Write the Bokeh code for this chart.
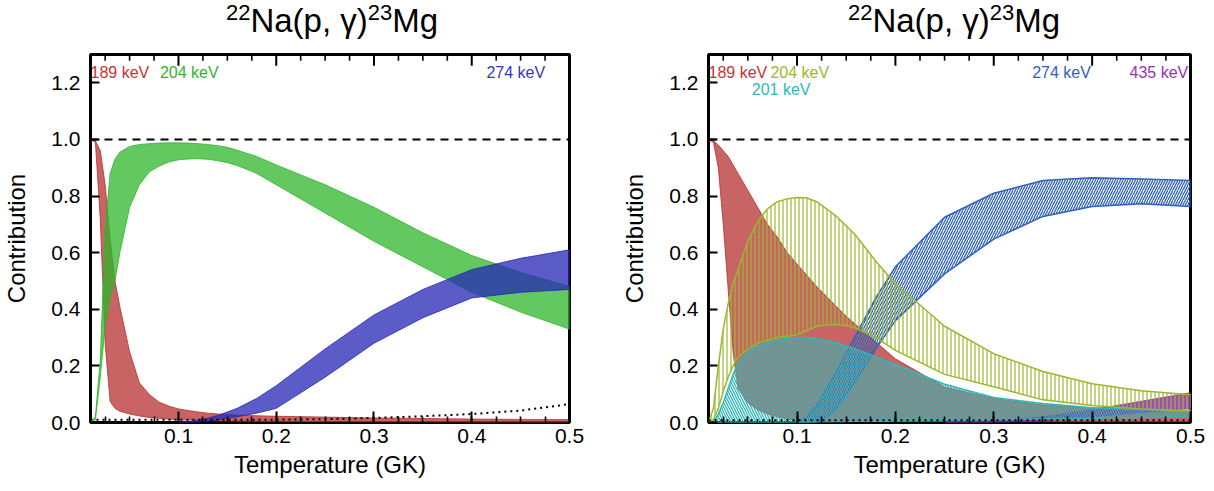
from bokeh.plotting import figure
from bokeh.layouts import row, column
from bokeh.models import FixedTicker, NumeralTickFormatter, Range1d, Span, Div
from bokeh.core.properties import value
from bokeh.embed import file_html
from bokeh.resources import INLINE

FONT = "Liberation Sans"

# ---------------- data ----------------
T = [0.01, 0.015, 0.02, 0.025, 0.03, 0.035, 0.04, 0.05, 0.06, 0.07, 0.08, 0.09,
     0.1, 0.11, 0.12, 0.13, 0.14, 0.15, 0.16, 0.18, 0.2, 0.25, 0.3, 0.35, 0.4, 0.45, 0.5]

# left panel
L_189_hi = [1.0, 0.995, 0.96, 0.84, 0.65, 0.50, 0.41, 0.25, 0.14, 0.10, 0.072, 0.058,
            0.048, 0.042, 0.037, 0.033, 0.030, 0.028, 0.026, 0.024, 0.022, 0.019, 0.016,
            0.014, 0.012, 0.011, 0.010]
L_189_lo = [1.0, 0.99, 0.72, 0.28, 0.075, 0.05, 0.04, 0.03, 0.023, 0.018, 0.015, 0.012,
            0.010, 0.009, 0.008, 0.007, 0.006, 0.006, 0.005, 0.004, 0.004, 0.003, 0.002,
            0.002, 0.001, 0.001, 0.001]
L_204_hi = [0.0, 0.02, 0.22, 0.68, 0.88, 0.93, 0.955, 0.975, 0.982, 0.985, 0.987, 0.988,
            0.988, 0.987, 0.985, 0.982, 0.978, 0.972, 0.962, 0.94, 0.91, 0.84, 0.76,
            0.67, 0.59, 0.53, 0.48]
L_204_lo = [0.0, 0.01, 0.16, 0.34, 0.44, 0.50, 0.60, 0.76, 0.84, 0.885, 0.905, 0.92,
            0.928, 0.931, 0.932, 0.93, 0.925, 0.918, 0.908, 0.88, 0.84, 0.74, 0.64,
            0.55, 0.46, 0.39, 0.33]
L_274_hi = [0, 0, 0, 0, 0, 0, 0, 0, 0, 0, 0, 0,
            0.0, 0.003, 0.008, 0.015, 0.025, 0.037, 0.05, 0.085, 0.13, 0.26, 0.38,
            0.47, 0.54, 0.58, 0.61]
L_274_lo = [0, 0, 0, 0, 0, 0, 0, 0, 0, 0, 0, 0,
            0.0, 0.0, 0.002, 0.005, 0.009, 0.014, 0.02, 0.033, 0.05, 0.16, 0.28,
            0.37, 0.44, 0.46, 0.47]
L_other = [0.01, 0.01, 0.01, 0.01, 0.01, 0.01, 0.01, 0.01, 0.01, 0.01, 0.01, 0.01,
           0.01, 0.01, 0.01, 0.01, 0.01, 0.01, 0.01, 0.01, 0.01, 0.012, 0.016,
           0.022, 0.03, 0.042, 0.065]

# right panel
R_189_hi = [1.0, 0.995, 0.98, 0.96, 0.94, 0.91, 0.88, 0.82, 0.76, 0.70, 0.655, 0.60,
            0.56, 0.52, 0.48, 0.445, 0.41, 0.375, 0.345, 0.285, 0.225, 0.125, 0.085,
            0.062, 0.052, 0.045, 0.04]
R_189_lo = [1.0, 0.99, 0.90, 0.70, 0.47, 0.25, 0.12, 0.07, 0.045, 0.03, 0.02, 0.012,
            0.008, 0.007, 0.006, 0.006, 0.005, 0.005, 0.005, 0.004, 0.004, 0.004, 0.003,
            0.003, 0.003, 0.003, 0.003]
R_204_hi = [0.0, 0.05, 0.2, 0.33, 0.42, 0.49, 0.54, 0.64, 0.71, 0.755, 0.78, 0.79,
            0.795, 0.793, 0.78, 0.755, 0.728, 0.695, 0.66, 0.57, 0.49, 0.34, 0.243,
            0.18, 0.137, 0.112, 0.098]
R_204_lo = [0.0, 0.01, 0.05, 0.11, 0.16, 0.20, 0.23, 0.26, 0.28, 0.29, 0.30, 0.305,
            0.31, 0.325, 0.34, 0.345, 0.345, 0.343, 0.333, 0.30, 0.255, 0.17, 0.126,
            0.08, 0.06, 0.048, 0.04]
R_201_hi = [0.0, 0.0, 0.03, 0.07, 0.12, 0.17, 0.21, 0.25, 0.27, 0.282, 0.292, 0.298,
            0.30, 0.30, 0.296, 0.29, 0.282, 0.27, 0.258, 0.232, 0.205, 0.135, 0.088,
            0.067, 0.052, 0.046, 0.042]
R_201_lo = [0.0, 0.0, 0.0, 0.0, 0.0, 0.0, 0.0, 0.0, 0.0, 0.0, 0.0, 0.0,
            0.0, 0.001, 0.002, 0.002, 0.003, 0.003, 0.004, 0.004, 0.005, 0.007, 0.01,
            0.012, 0.015, 0.018, 0.02]
R_274_hi = [0, 0, 0, 0, 0, 0, 0, 0, 0, 0, 0, 0,
            0.0, 0.02, 0.06, 0.12, 0.18, 0.245, 0.31, 0.44, 0.55, 0.725, 0.81,
            0.855, 0.865, 0.86, 0.855]
R_274_lo = [0, 0, 0, 0, 0, 0, 0, 0, 0, 0, 0, 0,
            0.0, 0.0, 0.003, 0.02, 0.05, 0.10, 0.15, 0.26, 0.36, 0.525, 0.648,
            0.728, 0.763, 0.773, 0.763]
R_435_hi = [0, 0, 0, 0, 0, 0, 0, 0, 0, 0, 0, 0,
            0, 0, 0, 0, 0, 0, 0, 0, 0, 0.0, 0.006, 0.02, 0.045, 0.075, 0.105]
R_435_lo = [0, 0, 0, 0, 0, 0, 0, 0, 0, 0, 0, 0,
            0, 0, 0, 0, 0, 0, 0, 0, 0, 0.0, 0.0, 0.006, 0.02, 0.035, 0.05]
R_other = [0.008] * len(T)

# resonance labels
L_labels = ["189 keV", "204 keV", "274 keV"]
L_label_colors = ["#c83232", "#2fb52c", "#3535bd"]
L_label_x = [0.01, 0.081, 0.415]
L_label_y = [1.237, 1.237, 1.237]
R_labels = ["189 keV", "204 keV", "201 keV", "274 keV", "435 keV"]
R_label_colors = ["#c83232", "#9ab82e", "#2fb8b8", "#2f62b8", "#9b30b0"]
R_label_x = [0.01, 0.073, 0.054, 0.339, 0.438]
R_label_y = [1.237, 1.237, 1.178, 1.237, 1.237]

TITLE_HTML = ('<span style="font-size:22px;vertical-align:12px;line-height:0">22</span>'
              'Na(p, \u03b3)'
              '<span style="font-size:22px;vertical-align:12px;line-height:0">23</span>Mg')

X_TICKS = [0.1, 0.2, 0.3, 0.4, 0.5]
X_MINOR = [round(0.025 * i, 3) for i in range(1, 21)]
Y_TICKS = [0.0, 0.2, 0.4, 0.6, 0.8, 1.0, 1.2]
X_MIN, X_MAX = 0.01, 0.5
Y_MIN, Y_MAX = 0.0, 1.3
UNITY = 1.0
TOP_TICK_MAJOR = 0.04    # tick length expressed in y units (~11 px)
TOP_TICK_MINOR = 0.022   # (~6 px)

TITLE_H = 40
FIG_H = 475 - TITLE_H


def band(p, lo, hi, **kw):
    start = 0
    while start + 1 < len(T) and hi[start + 1] == 0 and lo[start + 1] == 0:
        start += 1
    x = list(T[start:])
    l = list(lo[start:])
    h = list(hi[start:])
    return p.patch(x + x[::-1], h + l[::-1], **kw)


def make_fig(width, bl, br):
    p = figure(width=width, height=FIG_H, x_range=Range1d(X_MIN, X_MAX),
               y_range=Range1d(Y_MIN, Y_MAX), output_backend="svg",
               toolbar_location=None, min_border_left=bl, min_border_right=br,
               min_border_top=4, min_border_bottom=63)
    p.grid.visible = False
    p.outline_line_color = "black"
    p.outline_line_width = 3
    p.background_fill_color = "white"
    p.border_fill_color = "white"

    xa = p.xaxis[0]
    xa.ticker = FixedTicker(ticks=X_TICKS, minor_ticks=X_MINOR)
    xa.formatter = NumeralTickFormatter(format="0.0")
    xa.axis_label = "Temperature (GK)"
    ya = p.yaxis[0]
    ya.ticker = FixedTicker(ticks=Y_TICKS)
    ya.formatter = NumeralTickFormatter(format="0.0")
    ya.axis_label = "Contribution"
    for ax in (xa, ya):
        ax.axis_line_color = None
        ax.major_tick_out = 0
        ax.major_tick_in = 11
        ax.minor_tick_out = 0
        ax.minor_tick_in = 6
        ax.major_tick_line_color = "black"
        ax.minor_tick_line_color = "black"
        ax.major_tick_line_width = 2
        ax.minor_tick_line_width = 1.6
        ax.major_label_text_font = FONT
        ax.major_label_text_font_size = "21px"
        ax.major_label_text_color = "black"
        ax.axis_label_text_font = FONT
        ax.axis_label_text_font_size = "24px"
        ax.axis_label_text_font_style = "normal"
        ax.axis_label_text_color = "black"
    xa.major_label_standoff = 6
    xa.axis_label_standoff = 5
    ya.major_tick_in = 9
    ya.minor_tick_line_color = None
    ya.major_label_standoff = 10
    ya.axis_label_standoff = 18

    # inward ticks along the top edge of the frame
    minor_only = [m for m in X_MINOR if m not in X_TICKS]
    p.segment(x0=X_TICKS, y0=[Y_MAX] * len(X_TICKS), x1=X_TICKS,
              y1=[Y_MAX - TOP_TICK_MAJOR] * len(X_TICKS),
              line_color="black", line_width=2)
    p.segment(x0=minor_only, y0=[Y_MAX] * len(minor_only), x1=minor_only,
              y1=[Y_MAX - TOP_TICK_MINOR] * len(minor_only),
              line_color="black", line_width=1.6)

    p.add_layout(Span(location=UNITY, dimension="width", line_color="black",
                      line_width=2, line_dash="8 6"))
    return p


def make_title(width, bl, br):
    return Div(text=TITLE_HTML, width=width, height=TITLE_H,
               styles={"font-family": FONT, "font-size": "33px", "color": "black",
                       "text-align": "center", "line-height": "32px",
                       "padding-left": f"{bl}px", "padding-right": f"{br}px",
                       "box-sizing": "border-box", "white-space": "nowrap",
                       "overflow": "visible"})


# ---------------- left panel ----------------
W1, BL1, BR1 = 598, 85, 29
p1 = make_fig(W1, BL1, BR1)
band(p1, L_189_lo, L_189_hi, fill_color="#b5302f", fill_alpha=0.75,
     line_color="#b5302f", line_alpha=0.8, line_width=1)
band(p1, L_204_lo, L_204_hi, fill_color="#2db52a", fill_alpha=0.75,
     line_color="#2db52a", line_alpha=0.8, line_width=1)
band(p1, L_274_lo, L_274_hi, fill_color="#2525b5", fill_alpha=0.75,
     line_color="#2525b5", line_alpha=0.8, line_width=1)
p1.line(T, L_other, line_color="black", line_width=2, line_dash="2 4")
p1.text(x=L_label_x, y=L_label_y, text=L_labels, text_color=L_label_colors,
        text_font=value(FONT), text_font_size="16px", text_baseline="middle",
        text_align="left")

# ---------------- right panel ----------------
W2, BL2, BR2 = 600, 100, 18
p2 = make_fig(W2, BL2, BR2)
band(p2, R_189_lo, R_189_hi, fill_color="#b5302f", fill_alpha=0.75,
     line_color="#b5302f", line_alpha=0.8, line_width=1)
band(p2, R_435_lo, R_435_hi, fill_color="#8a1fa6", fill_alpha=0.8,
     line_color="#8a1fa6", line_alpha=0.8, line_width=1)
band(p2, R_274_lo, R_274_hi, fill_color=None, hatch_pattern="/",
     hatch_color="#2f62b8", hatch_scale=5, hatch_weight=1.3,
     line_color="#2f62b8", line_width=1.5)
band(p2, R_201_lo, R_201_hi, fill_color=None, hatch_pattern="\\",
     hatch_color="#2fb8b8", hatch_scale=5, hatch_weight=1.3,
     line_color="#2fb8b8", line_width=1.5)
band(p2, R_204_lo, R_204_hi, fill_color=None, hatch_pattern="|",
     hatch_color="#9ab82e", hatch_scale=4, hatch_weight=1.2,
     line_color="#9ab82e", line_width=1.5)
p2.line(T, R_other, line_color="black", line_width=2, line_dash="2 4")
p2.text(x=R_label_x, y=R_label_y, text=R_labels, text_color=R_label_colors,
        text_font=value(FONT), text_font_size="16px", text_baseline="middle",
        text_align="left")

layout = row(column(make_title(W1, BL1, BR1), p1), column(make_title(W2, BL2, BR2), p2))
open("out.html", "w").write(file_html(layout, INLINE))
